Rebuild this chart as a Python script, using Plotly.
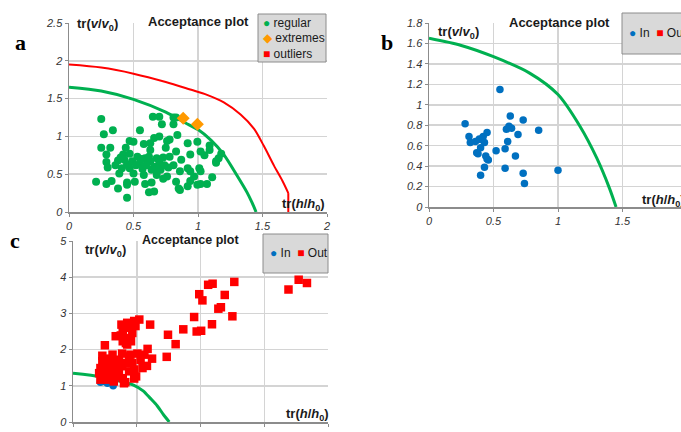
import plotly.graph_objects as go

W, H = 681, 432

# ---------------- Panel a data ----------------
a_regular_x = [0.25, 0.65, 0.70, 0.81, 0.83, 0.34, 0.27, 0.55, 0.72, 0.81,
               0.66, 0.70, 0.78, 0.84, 0.76, 0.47, 0.50, 0.58, 0.63, 0.92, 0.995,
               0.25, 0.32, 0.44, 0.63, 0.75, 0.83, 1.02, 1.09, 1.09, 1.18, 1.16,
               0.29, 0.42, 0.47, 0.53, 0.59, 0.68, 0.73, 0.78, 0.87, 0.94, 1.05, 1.14,
               0.29, 0.38, 0.43, 0.49, 0.55, 0.63, 0.70, 0.81, 0.92, 1.01, 1.14,
               0.30, 0.41, 0.47, 0.57, 0.64, 0.71, 0.77, 0.86, 0.94, 1.02,
               0.39, 0.50, 0.58, 0.68, 0.76, 0.97,
               0.21, 0.29, 0.33, 0.45, 0.51, 0.59, 0.64, 0.73, 0.83, 0.94, 1.02, 1.07, 1.11,
               0.38, 0.45, 0.62, 0.66, 0.86, 0.92, 0.995, 0.45, 0.85,
               0.52, 0.60, 0.66, 0.45, 0.56, 0.62, 0.68, 0.74, 0.40, 0.36]
a_regular_y = [1.23, 1.26, 1.26, 1.25, 1.25, 1.08, 1.03, 1.08, 1.16, 1.16,
               0.98, 1.00, 0.96, 1.02, 0.94, 0.94, 0.93, 0.90, 0.91, 0.91, 0.93,
               0.85, 0.85, 0.85, 0.82, 0.85, 0.80, 0.80, 0.88, 0.82, 0.77, 0.71,
               0.76, 0.76, 0.77, 0.73, 0.71, 0.71, 0.72, 0.73, 0.69, 0.76, 0.75, 0.65,
               0.66, 0.68, 0.69, 0.67, 0.65, 0.67, 0.65, 0.62, 0.58, 0.58, 0.67,
               0.59, 0.58, 0.58, 0.57, 0.56, 0.56, 0.59, 0.54, 0.54, 0.54,
               0.51, 0.51, 0.49, 0.49, 0.47, 0.47,
               0.40, 0.37, 0.41, 0.39, 0.40, 0.37, 0.39, 0.44, 0.40, 0.41, 0.37, 0.37, 0.46,
               0.31, 0.36, 0.26, 0.27, 0.29, 0.34, 0.36, 0.19, 0.31,
               0.62, 0.62, 0.60, 0.63, 0.70, 0.73, 0.58, 0.62, 0.72, 0.62]
a_extreme_x = [0.885, 0.995]
a_extreme_y = [1.24, 1.16]
a_outlier_x = []
a_outlier_y = []

# acceptance (green) and outlier (red) boundaries
a_green_x = [0, 0.25, 0.5, 0.75, 0.9, 1.0, 1.1, 1.2, 1.3, 1.38, 1.42, 1.45]
a_green_y = [1.65, 1.60, 1.49, 1.32, 1.18, 1.09, 0.95, 0.76, 0.49, 0.26, 0.12, 0.0]
a_red_x = [0, 0.25, 0.5, 0.75, 0.94, 1.07, 1.20, 1.33, 1.435, 1.51, 1.59, 1.655, 1.70]
a_red_y = [1.95, 1.91, 1.83, 1.72, 1.62, 1.55, 1.45, 1.29, 1.10, 0.875, 0.61, 0.41, 0.25]
a_red_tail_x = [1.70, 1.70]
a_red_tail_y = [0.25, 0.0]

# ---------------- Panel b data ----------------
b_in_x = [0.28, 0.55, 0.63, 0.73, 0.85, 0.60, 0.62, 0.64, 0.69, 0.61, 0.59, 0.52,
          0.31, 0.32, 0.36, 0.39, 0.42, 0.45, 0.43, 0.40, 0.37, 0.38, 0.44, 0.45,
          0.46, 0.43, 0.40, 0.59, 0.67, 0.73, 0.74, 1.00, 0.40]
b_in_y = [0.815, 1.15, 0.89, 0.85, 0.75, 0.76, 0.79, 0.77, 0.71, 0.64, 0.57, 0.55,
          0.69, 0.63, 0.64, 0.665, 0.69, 0.73, 0.63, 0.58, 0.53, 0.52, 0.50, 0.47,
          0.46, 0.39, 0.31, 0.38, 0.50, 0.33, 0.23, 0.36, 0.66]
b_out_x = []
b_out_y = []
b_green_x = [0, 0.25, 0.5, 0.78, 1.0, 1.17, 1.30, 1.40, 1.45]
b_green_y = [1.65, 1.58, 1.47, 1.31, 1.10, 0.79, 0.48, 0.18, 0.0]

# ---------------- Panel c data ----------------
c_in_x = [0.43, 0.54, 0.63, 0.50]
c_in_y = [1.10, 1.07, 1.00, 1.12]
c_out_x = [2.12, 2.19, 2.53, 1.98, 2.03, 2.38, 2.28, 2.32, 1.90, 2.50, 2.18, 1.94, 2.01,
           1.73, 1.49, 1.61, 1.47, 3.38, 3.54, 3.67, 1.21, 1.17, 1.24, 1.16, 0.96, 0.82,
           0.96, 1.04, 0.96, 0.85, 0.76, 0.98, 0.88, 0.78, 0.93, 0.75, 0.67, 0.85, 0.78,
           0.91, 0.85, 0.83, 0.50, 0.46, 0.62, 0.77, 0.90, 1.01, 1.12, 1.06, 1.09, 0.99,
           0.88, 0.77, 0.67, 0.57, 0.46, 0.43, 0.51, 0.62, 0.72, 0.83, 0.88, 0.49, 0.57,
           0.67, 0.78, 0.80, 0.41, 0.43, 0.54, 0.64, 0.72, 0.93, 0.60, 0.70, 0.55, 0.66,
           0.50]
c_out_y = [3.79, 3.82, 3.87, 3.53, 3.36, 3.51, 3.13, 3.17, 2.90, 2.92, 2.70, 2.50, 2.52,
           2.56, 2.41, 2.15, 1.80, 3.66, 3.93, 3.84, 2.69, 2.02, 1.75, 1.55, 1.20, 1.10,
           1.45, 2.83, 2.79, 2.74, 2.69, 2.65, 2.60, 2.54, 2.46, 2.39, 2.37, 2.32, 2.23,
           2.23, 2.14, 2.18, 2.12, 1.83, 1.86, 1.89, 1.86, 1.89, 1.86, 1.72, 1.49, 1.26,
           1.40, 1.54, 1.58, 1.63, 1.68, 1.49, 1.44, 1.40, 1.44, 1.63, 1.81, 1.26, 1.31,
           1.26, 1.21, 1.07, 1.35, 1.17, 1.17, 1.12, 1.72, 1.63, 1.52, 1.35, 1.75, 1.70,
           1.55]
c_green_x = [0, 0.45, 0.8, 0.95, 1.1, 1.21, 1.32, 1.42, 1.51]
c_green_y = [1.35, 1.25, 1.10, 1.02, 0.86, 0.66, 0.45, 0.20, 0.0]

GREEN = "#00B050"
RED = "#FF0000"
BLUE = "#0070C0"
ORANGE = "#FF9900"
FONT = "Liberation Sans"


def PX(px):
    return px / W


def PY(py):
    return 1 - py / H


fig = go.Figure()

# Panel a
fig.add_trace(go.Scatter(x=a_red_x, y=a_red_y, mode="lines", line=dict(color=RED, width=2, shape="spline", smoothing=0.8),
                         xaxis="x", yaxis="y", showlegend=False, hoverinfo="skip"))
fig.add_trace(go.Scatter(x=a_red_tail_x, y=a_red_tail_y, mode="lines", line=dict(color=RED, width=2),
                         xaxis="x", yaxis="y", showlegend=False, hoverinfo="skip"))
fig.add_trace(go.Scatter(x=a_green_x, y=a_green_y, mode="lines", line=dict(color=GREEN, width=3, shape="spline", smoothing=0.8),
                         xaxis="x", yaxis="y", showlegend=False, hoverinfo="skip"))
fig.add_trace(go.Scatter(x=a_regular_x, y=a_regular_y, mode="markers", name="regular",
                         marker=dict(color=GREEN, size=8), xaxis="x", yaxis="y", showlegend=False))
fig.add_trace(go.Scatter(x=a_extreme_x, y=a_extreme_y, mode="markers", name="extremes",
                         marker=dict(color=ORANGE, size=10, symbol="diamond"), xaxis="x", yaxis="y", showlegend=False))
fig.add_trace(go.Scatter(x=a_outlier_x, y=a_outlier_y, mode="markers", name="outliers",
                         marker=dict(color=RED, size=8, symbol="square"), xaxis="x", yaxis="y", showlegend=False))

# Panel b
fig.add_trace(go.Scatter(x=b_green_x, y=b_green_y, mode="lines", line=dict(color=GREEN, width=3, shape="spline", smoothing=0.8),
                         xaxis="x2", yaxis="y2", showlegend=False, hoverinfo="skip"))
fig.add_trace(go.Scatter(x=b_in_x, y=b_in_y, mode="markers", name="In",
                         marker=dict(color=BLUE, size=7.5), xaxis="x2", yaxis="y2", showlegend=False))
fig.add_trace(go.Scatter(x=b_out_x, y=b_out_y, mode="markers", name="Out",
                         marker=dict(color=RED, size=8, symbol="square"), xaxis="x2", yaxis="y2", showlegend=False))

# Panel c
fig.add_trace(go.Scatter(x=c_green_x, y=c_green_y, mode="lines", line=dict(color=GREEN, width=3, shape="spline", smoothing=0.8),
                         xaxis="x3", yaxis="y3", showlegend=False, hoverinfo="skip"))
fig.add_trace(go.Scatter(x=c_in_x, y=c_in_y, mode="markers", name="In",
                         marker=dict(color=BLUE, size=7.5), xaxis="x3", yaxis="y3", showlegend=False))
fig.add_trace(go.Scatter(x=c_out_x, y=c_out_y, mode="markers", name="Out",
                         marker=dict(color=RED, size=8.5, symbol="square"), xaxis="x3", yaxis="y3", showlegend=False))


def axis(domain, rng, dtick, anchor, tickvals=None):
    d = dict(domain=domain, range=rng, dtick=dtick, tick0=0, showgrid=True,
             gridcolor="#D4D4D4", gridwidth=1.5, showline=True, linecolor="#8C8C8C",
             linewidth=1.5, ticks="outside", ticklen=3, tickcolor="#8C8C8C",
             tickfont=dict(family=FONT, size=11, color="#333333", style="italic"),
             zeroline=False, anchor=anchor, fixedrange=True, automargin=False)
    if tickvals is not None:
        d["tickmode"] = "array"
        d["tickvals"] = tickvals
    return d


fig.update_layout(
    width=W, height=H, margin=dict(l=0, r=0, t=0, b=0),
    paper_bgcolor="white", plot_bgcolor="white", showlegend=False,
    xaxis=axis([PX(69), PX(327)], [0, 2], 0.5, "y"),
    yaxis=axis([PY(212), PY(23)], [0, 2.5], 0.5, "x"),
    xaxis2=axis([PX(429), 1.0], [0, 252 / 129], 0.5, "y2", tickvals=[0, 0.5, 1, 1.5]),
    yaxis2=axis([PY(207), PY(23)], [0, 1.8], 0.2, "x2"),
    xaxis3=axis([PX(73), PX(328)], [0, 4], 1, "y3"),
    yaxis3=axis([PY(422), PY(241)], [0, 5], 1, "x3"),
)

# legend boxes
for (x0, y0, x1, y1) in [(258, 14, 326, 62), (622, 13, 700, 54), (263, 234, 328, 273)]:
    fig.add_shape(type="rect", xref="paper", yref="paper", x0=PX(x0), x1=PX(x1), y0=PY(y1), y1=PY(y0),
                  fillcolor="#D9D9D9", line=dict(color="#8C8C8C", width=1), layer="above")

annots = []


def txt(x, y, text, size=12, anchor="center", bold=False, family=FONT, color="#1a1a1a"):
    annots.append(dict(x=PX(x), y=PY(y), xref="paper", yref="paper", text=text, showarrow=False,
                       xanchor=anchor, yanchor="middle",
                       font=dict(family=family, size=size, color=color, weight="bold" if bold else "normal")))


ylab = "tr(<i>v</i>/<i>v</i><sub>0</sub>)"
xlab = "tr(<i>h</i>/<i>h</i><sub>0</sub>)"
# panel a
txt(20, 43, "a", size=22, bold=True, family="Liberation Serif", color="black")
txt(198, 21, "Acceptance plot", size=13, bold=True)
txt(97, 25, ylab, size=13, bold=True)
txt(303, 205, xlab, size=13, bold=True)
txt(261, 23, f"<span style='color:{GREEN}'>●</span> regular", size=12, anchor="left")
txt(261, 38, f"<span style='color:{ORANGE}'>◆</span> extremes", size=12, anchor="left")
txt(261, 54, f"<span style='color:{RED}'>■</span> outliers", size=12, anchor="left")
# panel b
txt(387, 43, "b", size=22, bold=True, family="Liberation Serif", color="black")
txt(559, 22, "Acceptance plot", size=13, bold=True)
txt(458, 32, ylab, size=13, bold=True)
txt(640, 200, xlab, size=13, bold=True, anchor="left")
txt(627, 33, f"<span style='color:{BLUE}'>●</span> In  <span style='color:{RED}'>■</span> Out", size=12, anchor="left")
# panel c
txt(15, 240, "c", size=22, bold=True, family="Liberation Serif", color="black")
txt(190, 240, "Acceptance plot", size=12.5, bold=True)
txt(106, 250, ylab, size=13, bold=True)
txt(307, 414, xlab, size=13, bold=True)
txt(268, 253, f"<span style='color:{BLUE}'>●</span> In  <span style='color:{RED}'>■</span> Out", size=12, anchor="left")

fig.update_layout(annotations=annots)
fig.write_html("out.html", config={"displayModeBar": False, "staticPlot": True},
               post_script="document.body.style.margin='0';document.body.style.overflow='hidden';")
